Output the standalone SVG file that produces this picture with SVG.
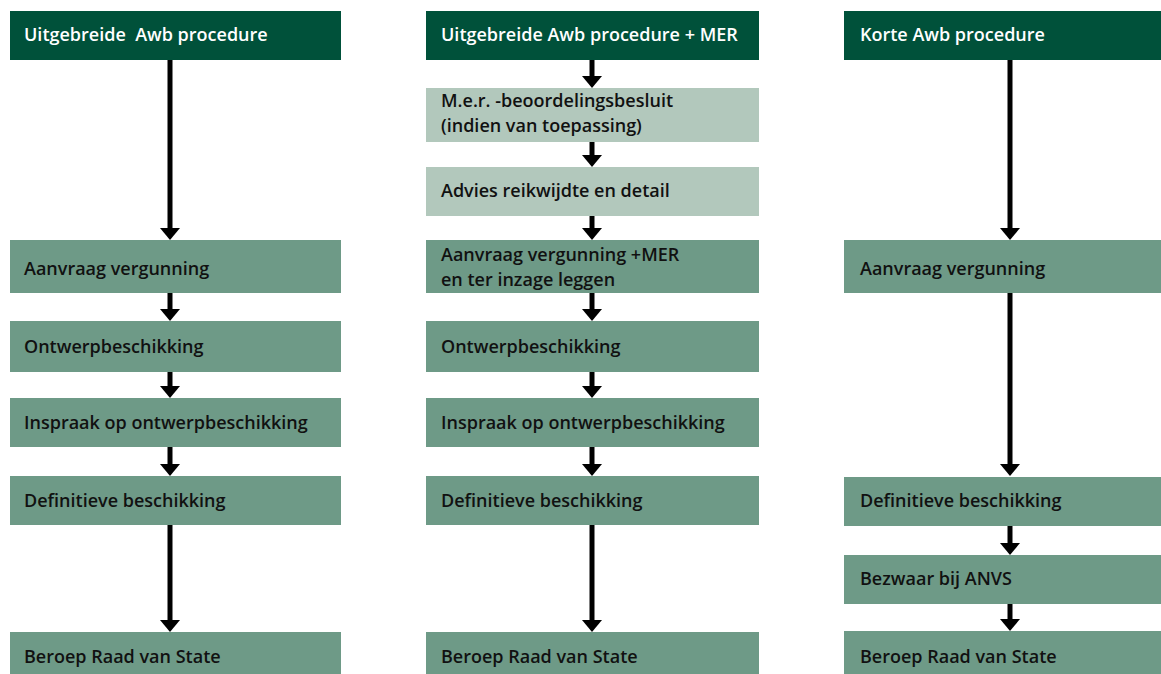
<svg xmlns="http://www.w3.org/2000/svg" width="1161" height="674" viewBox="0 0 1161 674">
<defs>
<style>
.hd{fill:#00513A}
.md{fill:#6E9A87}
.lt{fill:#B2C8BC}
text{font-family:"Open Sans","Liberation Sans",sans-serif;font-weight:600;font-size:18px;fill:#111}
.ht{fill:#fff}
.c{stroke:#000;stroke-width:5;fill:none;marker-end:url(#ah)}
</style>
<marker id="ah" viewBox="0 0 12 20" refX="1" refY="10" markerWidth="12" markerHeight="20" markerUnits="userSpaceOnUse" orient="auto">
<path d="M0,0 L12,10 L0,20 z" fill="#000"/>
</marker>
</defs>
<rect width="1161" height="674" fill="#fff"/>
<g id="connectors">
<line class="c" x1="170" y1="60" x2="170" y2="229"/>
<line class="c" x1="170" y1="293" x2="170" y2="310"/>
<line class="c" x1="170" y1="372" x2="170" y2="387"/>
<line class="c" x1="170" y1="447" x2="170" y2="465"/>
<line class="c" x1="170" y1="525" x2="170" y2="621"/>
<line class="c" x1="592" y1="60" x2="592" y2="77"/>
<line class="c" x1="592" y1="142" x2="592" y2="156"/>
<line class="c" x1="592" y1="216" x2="592" y2="229"/>
<line class="c" x1="592" y1="293" x2="592" y2="310"/>
<line class="c" x1="592" y1="372" x2="592" y2="387"/>
<line class="c" x1="592" y1="447" x2="592" y2="465"/>
<line class="c" x1="592" y1="525" x2="592" y2="621"/>
<line class="c" x1="1010" y1="60" x2="1010" y2="229"/>
<line class="c" x1="1010" y1="293" x2="1010" y2="465"/>
<line class="c" x1="1010" y1="526" x2="1010" y2="544"/>
<line class="c" x1="1010" y1="604" x2="1010" y2="620"/>
</g>
<g id="h1"><rect class="hd" x="10" y="11" width="331" height="49"/><text class="ht" x="24" y="41" xml:space="preserve">Uitgebreide  Awb procedure</text></g>
<g id="a1"><rect class="md" x="10" y="240" width="331" height="53"/><text x="24" y="275">Aanvraag vergunning</text></g>
<g id="o1"><rect class="md" x="10" y="321" width="331" height="51"/><text x="24" y="353">Ontwerpbeschikking</text></g>
<g id="i1"><rect class="md" x="10" y="398" width="331" height="49"/><text x="24" y="429">Inspraak op ontwerpbeschikking</text></g>
<g id="d1"><rect class="md" x="10" y="476" width="331" height="49"/><text x="24" y="507">Definitieve beschikking</text></g>
<g id="b1"><rect class="md" x="10" y="632" width="331" height="42"/><text x="24" y="663">Beroep Raad van State</text></g>

<g id="h2"><rect class="hd" x="426" y="11" width="333" height="49"/><text class="ht" x="441" y="41">Uitgebreide Awb procedure + MER</text></g>
<g id="m2"><rect class="lt" x="426" y="88" width="333" height="54"/><text x="441" y="107">M.e.r. -beoordelingsbesluit</text><text x="441" y="132">(indien van toepassing)</text></g>
<g id="r2"><rect class="lt" x="426" y="167" width="333" height="49"/><text x="441" y="197">Advies reikwijdte en detail</text></g>
<g id="a2"><rect class="md" x="426" y="240" width="333" height="53"/><text x="441" y="261">Aanvraag vergunning +MER</text><text x="441" y="286">en ter inzage leggen</text></g>
<g id="o2"><rect class="md" x="426" y="321" width="333" height="51"/><text x="441" y="353">Ontwerpbeschikking</text></g>
<g id="i2"><rect class="md" x="426" y="398" width="333" height="49"/><text x="441" y="429">Inspraak op ontwerpbeschikking</text></g>
<g id="d2"><rect class="md" x="426" y="476" width="333" height="49"/><text x="441" y="507">Definitieve beschikking</text></g>
<g id="b2"><rect class="md" x="426" y="632" width="333" height="42"/><text x="441" y="663">Beroep Raad van State</text></g>

<g id="h3"><rect class="hd" x="844" y="11" width="317" height="49"/><text class="ht" x="860" y="41">Korte Awb procedure</text></g>
<g id="a3"><rect class="md" x="844" y="240" width="317" height="53"/><text x="860" y="275">Aanvraag vergunning</text></g>
<g id="d3"><rect class="md" x="844" y="477" width="317" height="49"/><text x="860" y="507">Definitieve beschikking</text></g>
<g id="z3"><rect class="md" x="844" y="555" width="317" height="49"/><text x="860" y="585">Bezwaar bij ANVS</text></g>
<g id="b3"><rect class="md" x="844" y="631" width="317" height="43"/><text x="860" y="663">Beroep Raad van State</text></g>
</svg>
